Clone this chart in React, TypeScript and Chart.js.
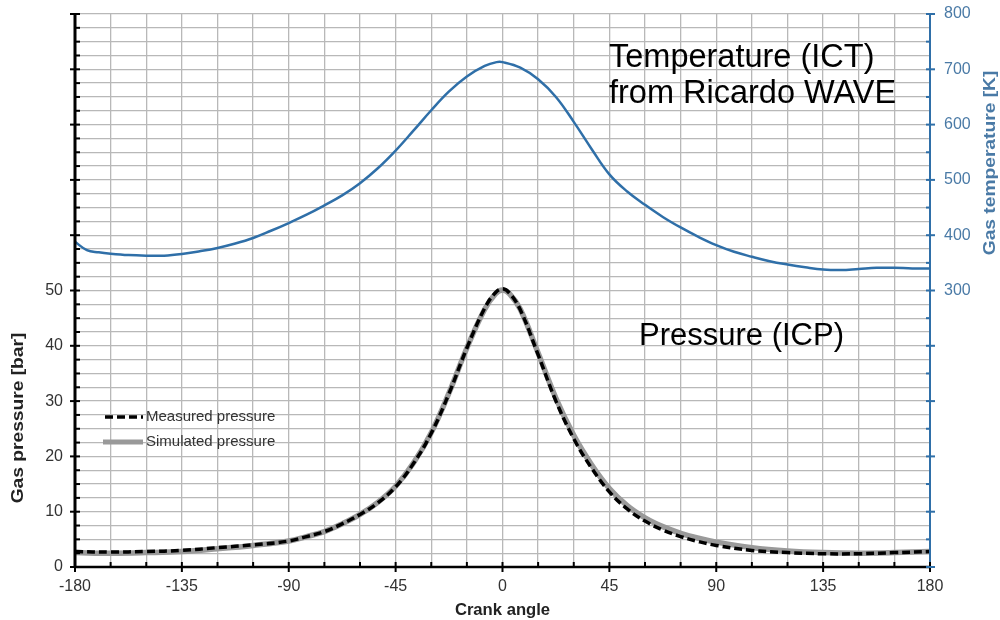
import React, { useEffect, useRef } from "react";
import { Chart, registerables } from "chart.js";

Chart.register(...registerables);

// Crank angle positions (degrees) for each series
const tempAngles = [-180, -175, -170, -165, -157.5, -150, -142.5, -135, -127.5, -120, -112.5, -105, -97.5, -90, -82.5, -75, -67.5, -60, -52.5, -45, -37.5, -30, -22.5, -15, -7.5, -2.5, 0, 7.5, 15, 22.5, 30, 37.5, 45, 52.5, 60, 67.5, 75, 82.5, 90, 97.5, 105, 112.5, 120, 127.5, 135, 142.5, 150, 157.5, 165, 172.5, 180];
const temperatureK = [388, 373, 369, 366.5, 364, 363, 363, 366, 371, 377, 385, 395, 408, 422, 437, 454, 472, 494, 521, 553, 589, 626, 660, 687, 706, 713, 713, 703, 682, 650, 605, 556, 510, 479, 455, 433, 414, 397, 382, 370, 361, 353, 347, 342, 338, 337, 339, 341, 341, 340, 340];

const pressureAngles = [-180, -165, -150, -135, -120, -105, -90, -82.5, -75, -67.5, -60, -52.5, -45, -37.5, -30, -22.5, -15, -7.5, -3, 0, 3, 7.5, 15, 22.5, 30, 37.5, 45, 52.5, 60, 67.5, 75, 82.5, 90, 105, 120, 135, 150, 165, 180];
const measuredBar = [2.8, 2.7, 2.8, 3.0, 3.5, 4.0, 4.7, 5.5, 6.4, 7.8, 9.5, 11.6, 14.5, 18.7, 24.2, 31.4, 39.6, 46.8, 49.6, 50.3, 49.5, 46.5, 38.4, 30.0, 23.2, 17.9, 13.6, 10.5, 8.3, 6.7, 5.5, 4.6, 3.9, 3.0, 2.6, 2.4, 2.4, 2.6, 2.8];
const simulatedBar = [2.6, 2.5, 2.6, 2.8, 3.3, 3.9, 4.7, 5.5, 6.4, 7.8, 9.5, 11.7, 14.6, 18.8, 24.3, 31.5, 39.6, 46.6, 49.4, 50.1, 49.4, 46.6, 38.7, 30.5, 23.8, 18.5, 14.2, 11.1, 8.9, 7.3, 6.1, 5.2, 4.5, 3.5, 2.9, 2.6, 2.5, 2.6, 2.8];

const xLabelValues = [-180, -135, -90, -45, 0, 45, 90, 135, 180];
const leftLabelValues = [0, 10, 20, 30, 40, 50];
const rightLabelValues = [300, 400, 500, 600, 700, 800];

const xTitle = "Crank angle";
const leftTitle = "Gas pressure [bar]";
const rightTitle = "Gas temperature [K]";
const legendLabels = ["Measured pressure", "Simulated pressure"];
const noteTemp = ["Temperature (ICT)", "from Ricardo WAVE"];
const notePressure = "Pressure (ICP)";

const FONT = '"Liberation Sans", Arial, sans-serif';
const BLUE = "#2f6fa8";
const BLUE_TEXT = "#4a7aa6";

const decorPlugin = {
  id: "decor",
  afterDatasetsDraw(chart: any) {
    const ctx = chart.ctx;
    const { left, right, top, bottom } = chart.chartArea;
    const xs = chart.scales.x;
    const yl = chart.scales.y;
    const yr = chart.scales.yT;
    ctx.save();
    // axis lines
    ctx.strokeStyle = "#000";
    ctx.lineWidth = 3;
    ctx.beginPath();
    ctx.moveTo(left, top);
    ctx.lineTo(left, bottom);
    ctx.stroke();
    ctx.lineWidth = 2.5;
    ctx.beginPath();
    ctx.moveTo(left, bottom);
    ctx.lineTo(right, bottom);
    ctx.stroke();
    ctx.strokeStyle = BLUE;
    ctx.lineWidth = 2;
    ctx.beginPath();
    ctx.moveTo(right, top);
    ctx.lineTo(right, bottom);
    ctx.stroke();

    // tick marks
    ctx.strokeStyle = "#000";
    ctx.lineWidth = 2;
    xs.ticks.forEach((t: any) => {
      const px = xs.getPixelForValue(t.value);
      const major = Math.abs(t.value % 45) < 1e-6;
      ctx.beginPath();
      ctx.moveTo(px, bottom - 5);
      ctx.lineTo(px, major ? bottom + 5 : bottom);
      ctx.stroke();
    });
    yl.ticks.forEach((t: any) => {
      const py = yl.getPixelForValue(t.value);
      const major = Math.abs(t.value % 10) < 1e-6;
      ctx.beginPath();
      ctx.moveTo(major ? left - 5 : left, py);
      ctx.lineTo(left + 5, py);
      ctx.stroke();
    });
    ctx.strokeStyle = BLUE;
    yr.ticks.forEach((t: any) => {
      const py = yr.getPixelForValue(t.value);
      const major = Math.abs(t.value % 100) < 1e-6;
      ctx.beginPath();
      ctx.moveTo(right - 4, py);
      ctx.lineTo(major ? right + 5 : right, py);
      ctx.stroke();
    });

    // axis titles
    ctx.fillStyle = "#222";
    ctx.font = `bold 16px ${FONT}`;
    ctx.textAlign = "center";
    ctx.textBaseline = "middle";
    ctx.save();
    ctx.translate((left + right) / 2, 611);
    ctx.scale(1.04, 1);
    ctx.fillText(xTitle, 0, 0);
    ctx.restore();

    ctx.save();
    ctx.translate(19, 418);
    ctx.rotate(-Math.PI / 2);
    ctx.scale(1.2, 1);
    ctx.font = `bold 16px ${FONT}`;
    ctx.fillText(leftTitle, 0, 0);
    ctx.restore();

    ctx.save();
    ctx.translate(991, 163);
    ctx.rotate(-Math.PI / 2);
    ctx.scale(1.2, 1);
    ctx.fillStyle = BLUE_TEXT;
    ctx.font = `bold 16px ${FONT}`;
    ctx.fillText(rightTitle, 0, 0);
    ctx.restore();

    // annotations
    ctx.fillStyle = "#000";
    ctx.font = `32.5px ${FONT}`;
    ctx.textAlign = "left";
    ctx.textBaseline = "alphabetic";
    ctx.fillText(noteTemp[0], 609, 67);
    ctx.fillText(noteTemp[1], 609, 103);
    ctx.font = `31px ${FONT}`;
    ctx.fillText(notePressure, 639, 345);

    // legend
    ctx.lineCap = "butt";
    ctx.strokeStyle = "#999";
    ctx.lineWidth = 5;
    ctx.setLineDash([]);
    ctx.beginPath();
    ctx.moveTo(103, 442);
    ctx.lineTo(143, 442);
    ctx.stroke();
    ctx.strokeStyle = "#000";
    ctx.lineWidth = 3.5;
    ctx.setLineDash([8, 4]);
    ctx.beginPath();
    ctx.moveTo(105, 417);
    ctx.lineTo(143, 417);
    ctx.stroke();
    ctx.setLineDash([]);
    ctx.fillStyle = "#333";
    ctx.font = `15px ${FONT}`;
    ctx.textBaseline = "middle";
    ctx.fillText(legendLabels[0], 146, 417);
    ctx.fillText(legendLabels[1], 146, 442);
    ctx.restore();
  },
};

const noPad = (s: any) => {
  s.paddingTop = 0;
  s.paddingBottom = 0;
};

export default function App() {
  const ref = useRef<HTMLCanvasElement>(null);
  useEffect(() => {
    if (!ref.current) return;
    const chart = new Chart(ref.current, {
      type: "line",
      data: {
        datasets: [
          {
            label: legendLabels[0],
            data: pressureAngles.map((a, i) => ({ x: a, y: measuredBar[i] })),
            borderColor: "#000",
            borderWidth: 3.5,
            borderDash: [8, 4],
            pointRadius: 0,
            tension: 0.4,
            yAxisID: "y",
          },
          {
            label: legendLabels[1],
            data: pressureAngles.map((a, i) => ({ x: a, y: simulatedBar[i] })),
            borderColor: "#9a9a9a",
            borderWidth: 5.5,
            pointRadius: 0,
            tension: 0.4,
            yAxisID: "y",
          },
          {
            label: "Temperature",
            data: tempAngles.map((a, i) => ({ x: a, y: temperatureK[i] })),
            borderColor: BLUE,
            borderWidth: 2.5,
            pointRadius: 0,
            tension: 0.4,
            yAxisID: "yT",
          },
        ],
      },
      options: {
        animation: false,
        responsive: true,
        maintainAspectRatio: false,
        layout: { padding: { top: 14, left: 0, right: 0, bottom: 0 } },
        plugins: { legend: { display: false }, tooltip: { enabled: false } },
        scales: {
          x: {
            type: "linear",
            min: -180,
            max: 180,
            afterFit: (s: any) => { s.height = 53; s.paddingLeft = 0; s.paddingRight = 0; },
            ticks: {
              stepSize: 15,
              autoSkip: false,
              maxRotation: 0,
              padding: 10,
              color: "#333",
              font: { family: FONT, size: 16 },
              callback: (v: any) => (xLabelValues.includes(Number(v)) ? String(v) : ""),
            },
            grid: { color: "#b8b8b8", lineWidth: 1.3, drawTicks: false },
            border: { display: false },
          },
          y: {
            type: "linear",
            position: "left",
            min: 0,
            max: 100,
            afterFit: (s: any) => { s.width = 75; noPad(s); },
            ticks: {
              stepSize: 2.5,
              autoSkip: false,
              padding: 12,
              color: "#333",
              font: { family: FONT, size: 16 },
              callback: (v: any) => (leftLabelValues.includes(Number(v)) ? String(v) : ""),
            },
            grid: { color: "#b8b8b8", lineWidth: 1.3, drawTicks: false },
            border: { display: false },
          },
          yT: {
            type: "linear",
            position: "right",
            min: -200,
            max: 800,
            afterFit: (s: any) => { s.width = 70; noPad(s); },
            ticks: {
              stepSize: 50,
              autoSkip: false,
              padding: 14,
              color: BLUE_TEXT,
              font: { family: FONT, size: 16 },
              callback: (v: any) => (rightLabelValues.includes(Number(v)) ? String(v) : ""),
            },
            grid: { drawOnChartArea: false, drawTicks: false },
            border: { display: false },
          },
        },
      },
      plugins: [decorPlugin],
    });
    return () => chart.destroy();
  }, []);
  return (
    <div style={{ position: "absolute", left: 0, top: 0, width: 1000, height: 620, background: "#fff" }}>
      <canvas ref={ref} />
    </div>
  );
}
